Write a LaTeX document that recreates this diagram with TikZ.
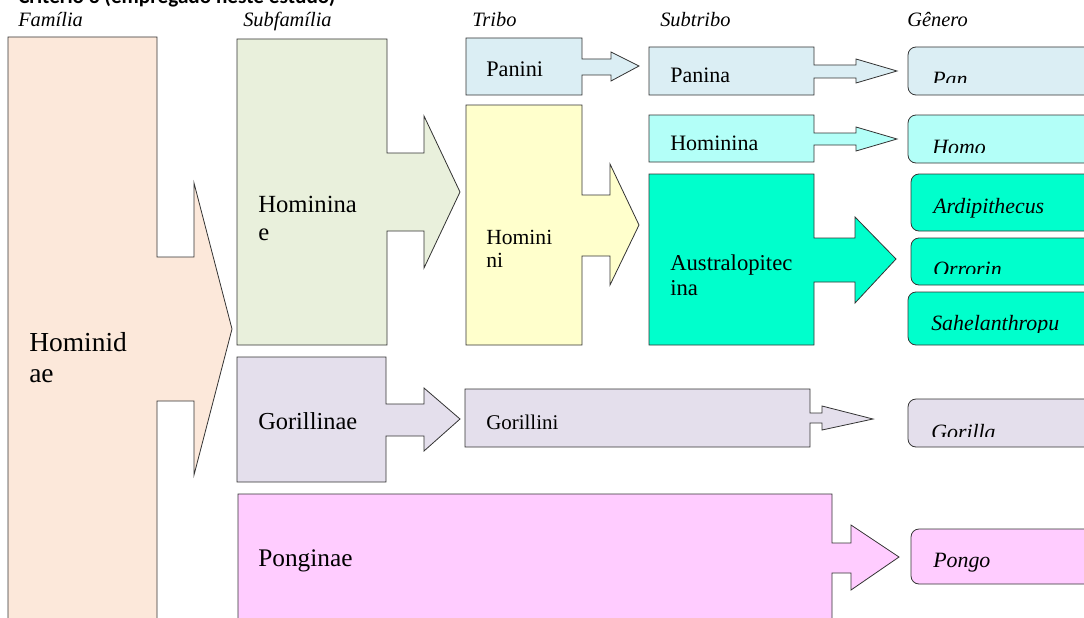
\documentclass[tikz,border=0pt]{standalone}
\usepackage{fontspec}
\setmainfont{Liberation Serif}
\newfontfamily\titlefont{Carlito}

\definecolor{peach}{HTML}{FCE8DA}
\definecolor{olivelt}{HTML}{E9F0DC}
\definecolor{yellowlt}{HTML}{FFFFCC}
\definecolor{bluelt}{HTML}{DBEEF4}
\definecolor{cyanlt}{HTML}{B3FFF8}
\definecolor{aqua}{HTML}{00FFCC}
\definecolor{lavender}{HTML}{E4DFEC}
\definecolor{pinklt}{HTML}{FFCCFF}

\newcommand{\fs}[2]{\fontsize{#1}{#2}\selectfont}

\tikzset{
  outl/.style={draw=black!80, line width=0.6pt, line join=miter},
  gbox/.style={outl, rounded corners=6pt},
  lbl/.style={anchor=base west, inner sep=0pt, align=left},
  hdr/.style={lbl, font=\fs{15.3}{17}\itshape},
  glbl/.style={lbl, font=\fs{16.4}{18}\itshape},
}

\begin{document}
\begin{tikzpicture}[x=0.75pt, y=-0.75pt]
    \useasboundingbox (0,0) rectangle (1084,617);
    \clip (0,0) rectangle (1084,617);
    % tytul (uciety u gory)
    \node[lbl, font=\titlefont\bfseries\fs{15.9}{18}] (title) at (18,4) {Critério 3 (empregado neste estudo)};
    % naglowki kolumn
    \node[hdr] (hfam) at (18,27) {Família};
    \node[hdr] (hsubfam) at (243,27) {Subfamília};
    \node[hdr] (htribo) at (472,27) {Tribo};
    \node[hdr] (hsubtribo) at (660,27) {Subtribo};
    \node[hdr] (hgenero) at (907,27) {Gênero};
    % Hominidae
    \draw[outl, fill=peach] (8,37) -- (157,37) -- (157,257) -- (194,257) -- (194,183) -- (232,329) -- (194,475) -- (194,401) -- (157,401) -- (157,640) -- (8,640) -- cycle;
    \node[lbl, font=\fs{20.6}{23.25}] (hominidae) at (29,382) {Hominid\\ae};
    % Homininae
    \draw[outl, fill=olivelt] (237,39) -- (387,39) -- (387,153) -- (424,153) -- (424,116) -- (460,192) -- (424,268) -- (424,231) -- (387,231) -- (387,345) -- (237,345) -- cycle;
    \node[lbl, font=\fs{18.5}{21}] (homininae) at (258,240) {Hominina\\e};
    % Gorillinae
    \draw[outl, fill=lavender] (237,357) -- (386,357) -- (386,404) -- (424,404) -- (424,388) -- (460,419) -- (424,451) -- (424,436) -- (386,436) -- (386,482) -- (237,482) -- cycle;
    \node[lbl, font=\fs{18.3}{21}] (gorillinae) at (258,429) {Gorillinae};
    % Ponginae
    \draw[outl, fill=pinklt] (238,494) -- (832,494) -- (832,543) -- (851,543) -- (851,525) -- (899,557) -- (851,590) -- (851,573) -- (832,573) -- (832,640) -- (238,640) -- cycle;
    \node[lbl, font=\fs{19}{21}] (ponginae) at (258,566) {Ponginae};
    % Panini
    \draw[outl, fill=bluelt] (466,38) -- (582,38) -- (582,59) -- (611,59) -- (611,52) -- (639,66) -- (611,81) -- (611,75) -- (582,75) -- (582,95) -- (466,95) -- cycle;
    \node[lbl, font=\fs{16.7}{19}] (panini) at (486,77) {Panini};
    % Hominini
    \draw[outl, fill=yellowlt] (466,105) -- (582,105) -- (582,195) -- (610,195) -- (610,164) -- (639,225) -- (610,285) -- (610,256) -- (582,256) -- (582,345) -- (466,345) -- cycle;
    \node[lbl, font=\fs{16.2}{17}] (hominini) at (486,267) {Homini\\ni};
    % Gorillini
    \draw[outl, fill=lavender] (465,389) -- (810,389) -- (810,413) -- (822,413) -- (822,406) -- (873,419) -- (822,430) -- (822,423) -- (810,423) -- (810,447) -- (465,447) -- cycle;
    \node[lbl, font=\fs{15.7}{18}] (gorillini) at (486,429) {Gorillini};
    % Panina
    \draw[outl, fill=bluelt] (649,47) -- (814,47) -- (814,65) -- (856,65) -- (856,59) -- (897,71) -- (856,83) -- (856,78) -- (814,78) -- (814,95) -- (649,95) -- cycle;
    \node[lbl, font=\fs{16.5}{19}] (panina) at (670,83) {Panina};
    % Hominina
    \draw[outl, fill=cyanlt] (649,115) -- (814,115) -- (814,133) -- (856,133) -- (856,127) -- (897,139) -- (856,151) -- (856,145) -- (814,145) -- (814,162) -- (649,162) -- cycle;
    \node[lbl, font=\fs{16.5}{19}] (hominina) at (670,150) {Hominina};
    % Australopitecina
    \draw[outl, fill=aqua] (649,174) -- (814,174) -- (814,238) -- (855,238) -- (855,217) -- (896,259) -- (855,303) -- (855,282) -- (814,282) -- (814,345) -- (649,345) -- cycle;
    \node[lbl, font=\fs{17}{18.75}] (australo) at (670,295) {Australopitec\\ina};
    % rodzaje
    \draw[gbox, fill=bluelt] (908,47) rectangle (1100,95);
    \draw[gbox, fill=cyanlt] (908,115) rectangle (1100,163);
    \draw[gbox, fill=aqua] (911,174) rectangle (1100,231);
    \draw[gbox, fill=aqua] (911,238) rectangle (1100,285);
    \draw[gbox, fill=aqua] (908,292) rectangle (1100,345);
    \draw[gbox, fill=lavender] (908,399) rectangle (1100,447);
    \draw[gbox, fill=pinklt] (911,529) rectangle (1100,584);
    \begin{scope}
        \clip (900,47) rectangle (1084,83);
        \node[glbl] (pan) at (932,86.5) {Pan};
    \end{scope}
    \begin{scope}
        \clip (900,115) rectangle (1084,152);
        \node[glbl] (homo) at (932,154.5) {Homo};
    \end{scope}
    \node[glbl] (ardi) at (933,213) {Ardipithecus};
    \begin{scope}
        \clip (900,238) rectangle (1084,273);
        \node[glbl] (orrorin) at (933,276.5) {Orrorin};
    \end{scope}
    \begin{scope}
        \clip (900,292) rectangle (1084,332);
        \node[glbl] (sahel) at (931,330) {Sahelanthropu};
    \end{scope}
    \begin{scope}
        \clip (900,399) rectangle (1084,436);
        \node[glbl] (gorilla) at (931,439.5) {Gorilla};
    \end{scope}
    \node[glbl] (pongo) at (933,567) {Pongo};
\end{tikzpicture}
\end{document}
